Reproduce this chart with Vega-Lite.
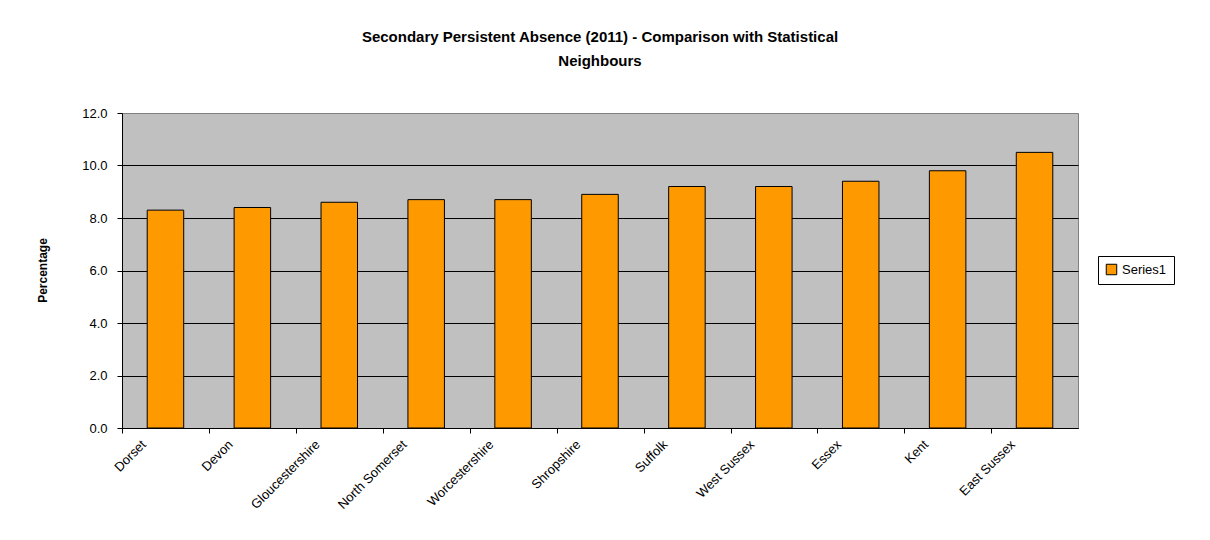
{
  "$schema": "https://vega.github.io/schema/vega-lite/v6.json",
  "autosize": "none",
  "width": 956,
  "height": 315,
  "padding": {"left": 122, "top": 113, "right": 132, "bottom": 112},
  "background": "#ffffff",
  "title": {
    "text": ["Secondary Persistent Absence (2011) - Comparison with Statistical", "Neighbours"],
    "font": "Liberation Sans",
    "fontSize": 15,
    "fontWeight": "bold",
    "color": "#000000",
    "anchor": "middle",
    "lineHeight": 24,
    "offset": 38
  },
  "data": {
    "values": [
      {"area": "Dorset", "series": "Series1", "pct": 8.3},
      {"area": "Devon", "series": "Series1", "pct": 8.4},
      {"area": "Gloucestershire", "series": "Series1", "pct": 8.6},
      {"area": "North Somerset", "series": "Series1", "pct": 8.7},
      {"area": "Worcestershire", "series": "Series1", "pct": 8.7},
      {"area": "Shropshire", "series": "Series1", "pct": 8.9},
      {"area": "Suffolk", "series": "Series1", "pct": 9.2},
      {"area": "West Sussex", "series": "Series1", "pct": 9.2},
      {"area": "Essex", "series": "Series1", "pct": 9.4},
      {"area": "Kent", "series": "Series1", "pct": 9.8},
      {"area": "East Sussex", "series": "Series1", "pct": 10.5}
    ]
  },
  "mark": {"type": "bar", "stroke": "#000000", "strokeWidth": 1},
  "encoding": {
    "x": {
      "field": "area",
      "type": "nominal",
      "sort": null,
      "scale": {"paddingInner": 0.58, "paddingOuter": 0.29},
      "axis": {
        "title": null,
        "bandPosition": 0,
        "tickOffset": -25,
        "labelAngle": -45,
        "labelAlign": "right",
        "labelBaseline": "middle",
        "labelOffset": 3,
        "labelPadding": 9,
        "labelFont": "Liberation Sans",
        "labelFontSize": 13,
        "labelColor": "#000000",
        "domainColor": "#000000",
        "tickColor": "#000000",
        "tickSize": 5,
        "grid": false
      }
    },
    "y": {
      "field": "pct",
      "type": "quantitative",
      "scale": {"domain": [0, 12], "nice": false},
      "axis": {
        "title": "Percentage",
        "titleFont": "Liberation Sans",
        "titleFontSize": 12,
        "titleFontWeight": "bold",
        "titleColor": "#000000",
        "titleX": -80,
        "titleY": 157,
        "titleAngle": -90,
        "titleAlign": "center",
        "titleBaseline": "middle",
        "values": [0, 2, 4, 6, 8, 10, 12],
        "format": ".1f",
        "labelFont": "Liberation Sans",
        "labelFontSize": 13,
        "labelColor": "#000000",
        "labelPadding": 10,
        "domainColor": "#000000",
        "tickColor": "#000000",
        "tickSize": 5,
        "grid": true,
        "gridColor": {"condition": {"test": "datum.value == 12", "value": "#808080"}, "value": "#000000"},
        "gridWidth": 1,
        "gridOpacity": 1
      }
    },
    "fill": {
      "field": "series",
      "type": "nominal",
      "scale": {"range": ["#FF9900"]},
      "legend": {
        "title": null,
        "orient": "none",
        "legendX": 976,
        "legendY": 143,
        "strokeColor": "#000000",
        "fillColor": "#ffffff",
        "padding": 7,
        "symbolType": "square",
        "symbolSize": 110,
        "symbolStrokeColor": "#000000",
        "symbolStrokeWidth": 1,
        "labelFont": "Liberation Sans",
        "labelFontSize": 13,
        "labelColor": "#000000"
      }
    }
  },
  "config": {
    "view": {"fill": "#C0C0C0", "stroke": "#808080", "strokeWidth": 1}
  }
}
